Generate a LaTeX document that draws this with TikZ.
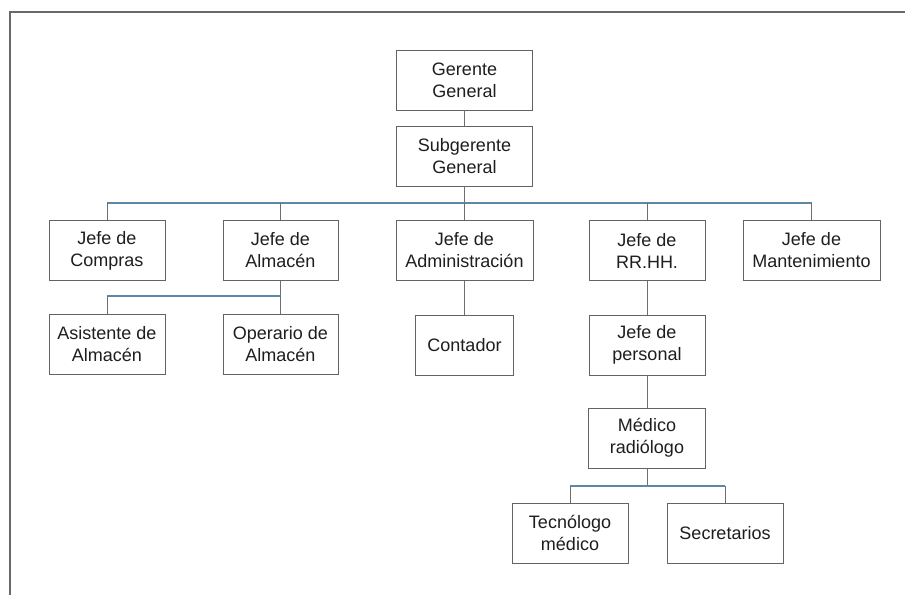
\documentclass[tikz,border=0pt]{standalone}
\usepackage{fontspec}
\setmainfont{Liberation Sans}
\definecolor{boxline}{RGB}{95,100,105}
\definecolor{busline}{RGB}{92,135,165}
\definecolor{stemline}{RGB}{110,110,110}
\definecolor{ink}{RGB}{30,30,30}
\definecolor{frameline}{RGB}{105,105,105}
\begin{document}
\begin{tikzpicture}[x=1bp,y=-1bp,
  post/.style={draw=boxline,line width=0.9bp,fill=white,text=ink,
    minimum width=#1,minimum height=60bp,inner sep=0pt,
    align=center,font=\fontsize{18bp}{22bp}\selectfont},
  post/.default=116bp,
  stem/.style={draw=stemline,line width=1bp},
  bus/.style={draw=busline,line width=1.3bp}]
\useasboundingbox (0,0) rectangle (905,595);
\fill[white] (0,0) rectangle (905,595);
% outer frame (top and left edges)
\draw[frameline,line width=1.6bp] (10,595) -- (10,12) -- (905,12);

% bus levels
\coordinate (busA) at (0,203);
\coordinate (busB) at (0,296);
\coordinate (busC) at (0,486);

% posts
\node[post=136bp] (gg)   at (464.5,80)  {Gerente\\General};
\node[post=136bp] (sg)   at (464.5,156) {Subgerente\\General};
\node[post]       (comp) at (107,250.5) {Jefe de\\Compras};
\node[post=115bp] (alm)  at (280.5,250.5) {Jefe de\\Almacén};
\node[post=137bp] (adm)  at (464.5,250.5) {Jefe de\\Administración};
\node[post]       (rrhh) at (647,250.5) {Jefe de\\RR.HH.};
\node[post=137bp] (mant) at (811.5,250.5) {Jefe de\\Mantenimiento};
\node[post]       (asis) at (107,344.5) {Asistente de\\Almacén};
\node[post=115bp] (oper) at (280.5,344.5) {Operario de\\Almacén};
\node[post=98bp]  (cont) at (464.5,345)   {Contador};
\node[post]       (pers) at (647,345)   {Jefe de\\personal};
\node[post=117bp] (med)  at (647,438) {Médico\\radiólogo};
\node[post]       (tec)  at (570,533)   {Tecnólogo\\médico};
\node[post]       (sec)  at (725,533)   {Secretarios};

% connectors
\draw[stem] (gg.south) -- (sg.north);
\draw[stem] (sg.south) -- (sg.south |- busA);
\draw[bus] (comp.north |- busA) -- (mant.north |- busA);
\foreach \n in {comp,alm,adm,rrhh,mant}
  \draw[stem] (\n.north |- busA) -- (\n.north);

\draw[stem] (alm.south) -- (alm.south |- busB);
\draw[bus] (asis.north |- busB) -- (oper.north |- busB);
\foreach \n in {asis,oper}
  \draw[stem] (\n.north |- busB) -- (\n.north);

\draw[stem] (adm.south) -- (cont.north);
\draw[stem] (rrhh.south) -- (pers.north);
\draw[stem] (pers.south) -- (med.north);

\draw[stem] (med.south) -- (med.south |- busC);
\draw[bus] (tec.north |- busC) -- (sec.north |- busC);
\foreach \n in {tec,sec}
  \draw[stem] (\n.north |- busC) -- (\n.north);
\end{tikzpicture}
\end{document}
